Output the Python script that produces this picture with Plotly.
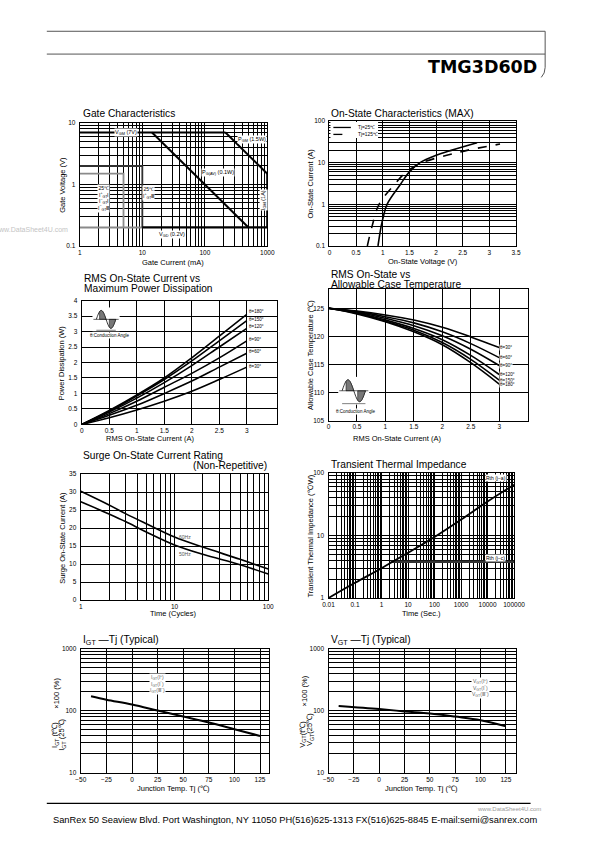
import math
import numpy as np
import plotly.graph_objects as go

W, H = 595, 842
def px(x): return x / W
def py(y): return 1 - y / H
L10 = math.log10

# ---------------- DATA ----------------
# Gate characteristics (mA, V)
gate_vgm_x, gate_vgm_y = [1, 214], [7, 7]
gate_pgm_x, gate_pgm_y = [214, 1000], [7, 1.5]
gate_pgav_x, gate_pgav_y = [14.3, 500], [7, 0.2]
gate_vgd_x, gate_vgd_y = [10, 1000], [0.2, 0.2]
gate_igm_x, gate_igm_y = [1000, 1000], [0.2, 1.5]
gate_box_dark_x, gate_box_dark_y = [1, 10, 10], [2, 2, 0.2]
gate_box_gray_x, gate_box_gray_y = [1, 5, 5], [1.5, 1.5, 0.2]
gate_vgd_gray_x, gate_vgd_gray_y = [1, 10], [0.2, 0.2]

# On-state characteristics (V, A)
on25_v = [0.91, 0.97, 1.01, 1.08, 1.33, 1.50, 1.70, 2.00, 2.30, 2.77]
on25_i = [0.1, 0.3, 0.5, 1, 3, 6, 10, 15, 20, 30]
on125_v = [0.71, 0.80, 0.93, 1.22, 1.44, 1.74, 2.20, 2.60, 3.20]
on125_i = [0.1, 0.3, 1, 3, 6, 10, 15, 20, 28]

# RMS current vs power dissipation
rms_x = [0, 0.5, 1, 1.5, 2, 2.5, 3]
pw_angles = ["180", "150", "120", "90", "60", "30"]
pw_180 = [0, 0.45, 0.95, 1.50, 2.15, 2.85, 3.55]
pw_150 = [0, 0.43, 0.92, 1.45, 2.05, 2.70, 3.35]
pw_120 = [0, 0.40, 0.85, 1.35, 1.90, 2.50, 3.10]
pw_90 = [0, 0.35, 0.75, 1.20, 1.65, 2.15, 2.70]
pw_60 = [0, 0.30, 0.62, 1.00, 1.40, 1.85, 2.30]
pw_30 = [0, 0.22, 0.47, 0.75, 1.07, 1.45, 1.85]

# RMS current vs allowable case temperature
tc_angles = ["30", "60", "90", "120", "150", "180"]
tc_30 = [125, 124.5, 123.8, 122.9, 121.6, 119.9, 118.0]
tc_60 = [125, 124.4, 123.5, 122.4, 120.8, 118.7, 116.2]
tc_90 = [125, 124.3, 123.2, 121.9, 120.1, 117.7, 114.8]
tc_120 = [125, 124.2, 122.9, 121.4, 119.4, 116.6, 113.2]
tc_150 = [125, 124.1, 122.7, 121.1, 118.9, 115.9, 112.2]
tc_180 = [125, 124.0, 122.6, 120.8, 118.5, 115.3, 111.5]

# Surge on-state current
surge_t = [1, 2, 3, 5, 10, 20, 50, 100]
surge_60 = [30.2, 26.4, 24.0, 21.2, 17.5, 14.7, 11.3, 8.6]
surge_50 = [27.3, 23.9, 21.8, 18.9, 15.3, 12.7, 9.8, 7.2]

# Transient thermal impedance
tti_t = [0.01, 0.1, 1, 10, 100, 1000, 10000, 100000]
tti_ja = [1.0, 1.75, 3.0, 5.3, 9.5, 18, 35, 65]
tti_jc_t = [2.2, 100000]
tti_jc = [3.8, 3.8]

# IGT / VGT vs Tj
igt_tj = [-40, -25, 0, 25, 50, 75, 100, 125]
igt_pct = [170, 150, 125, 100, 80, 64, 50, 39]
vgt_tj = [-40, 0, 25, 50, 75, 100, 125]
vgt_pct = [119, 106, 97, 90, 80, 70, 56]

# ---------------- FIGURE ----------------
FONT = "Liberation Sans"
fig = go.Figure()

panels = {
    1: dict(x=(76, 269), y=(120, 244), xt="log", xr=[0, 3], yt="log", yr=[-1, 1]),
    2: dict(x=(333, 525), y=(118, 244), xt="linear", xr=[0, 3.5], yt="log", yr=[-1, 2]),
    3: dict(x=(78, 279), y=(299, 424), xt="linear", xr=[0, 3.55], yt="linear", yr=[0, 4]),
    4: dict(x=(332, 537), y=(287, 420), xt="linear", xr=[0, 3.5], yt="linear", yr=[105, 128.5]),
    5: dict(x=(77, 270), y=(474, 601), xt="log", xr=[0, 2], yt="linear", yr=[0, 35]),
    6: dict(x=(332, 523), y=(473, 599), xt="log", xr=[-2, 5], yt="log", yr=[0, 2]),
    7: dict(x=(77, 271), y=(650, 775), xt="linear", xr=[-50, 134], yt="log", yr=[1, 3]),
    8: dict(x=(332, 525), y=(650, 775), xt="linear", xr=[-50, 135], yt="log", yr=[1, 3]),
}

def log_ticks(lo, hi):
    vals, txt = [], []
    for e in range(lo, hi):
        for m in range(1, 10):
            v = m * 10 ** e
            vals.append(v)
            txt.append((("%g" % v) if m == 1 else ""))
    vals.append(10 ** hi)
    txt.append("%g" % (10 ** hi))
    return vals, txt

def lin_ticks(a, b, step, minus=False):
    vals = list(np.arange(a, b + step / 2, step))
    txt = []
    for v in vals:
        s = ("%g" % v)
        if minus:
            s = s.replace("-", "−")
        txt.append(s)
    return vals, txt

ticks = {
    1: (log_ticks(0, 3), log_ticks(-1, 1)),
    2: (lin_ticks(0, 3.5, 0.5), log_ticks(-1, 2)),
    3: (lin_ticks(0, 3, 0.5), lin_ticks(0, 4, 0.5)),
    4: (lin_ticks(0, 3, 0.5), lin_ticks(105, 125, 5)),
    5: (log_ticks(0, 2), lin_ticks(0, 35, 5)),
    6: (log_ticks(-2, 5), log_ticks(0, 2)),
    7: (lin_ticks(-50, 125, 25, True), log_ticks(1, 3)),
    8: (lin_ticks(-50, 125, 25, True), log_ticks(1, 3)),
}

layout = dict(width=W, height=H, margin=dict(l=0, r=0, t=0, b=0),
              paper_bgcolor="white", plot_bgcolor="white", autosize=False,
              font=dict(family=FONT, color="black"), showlegend=False)

for k, p in panels.items():
    (xv, xtx), (yv, ytx) = ticks[k]
    sfx = "" if k == 1 else str(k)
    common = dict(showline=True, mirror=True, linecolor="black", linewidth=1.3,
                  showgrid=True, gridcolor="black", gridwidth=0.9, zeroline=False,
                  ticks="", tickfont=dict(size=6.5, family=FONT, color="black"),
                  fixedrange=True)
    layout["xaxis" + sfx] = dict(common, domain=[px(p["x"][0]), px(p["x"][1])],
                                 type=p["xt"], range=p["xr"], anchor="y" + sfx,
                                 tickmode="array", tickvals=xv, ticktext=xtx, ticklabelstandoff=0)
    layout["yaxis" + sfx] = dict(common, domain=[py(p["y"][1]), py(p["y"][0])],
                                 type=p["yt"], range=p["yr"], anchor="x" + sfx,
                                 tickmode="array", tickvals=yv, ticktext=ytx, ticklabelstandoff=2)

def add(k, x, y, color="black", width=1.8, dash="solid", shape="linear"):
    sfx = "" if k == 1 else str(k)
    fig.add_trace(go.Scatter(x=x, y=y, mode="lines", xaxis="x" + sfx, yaxis="y" + sfx,
                             line=dict(color=color, width=width, dash=dash, shape=shape),
                             showlegend=False, hoverinfo="skip"))

# Gate
add(1, gate_vgd_gray_x, gate_vgd_gray_y, color="#8a8a8a", width=2)
add(1, gate_box_gray_x, gate_box_gray_y, color="#8a8a8a", width=1.8)
add(1, gate_box_dark_x, gate_box_dark_y, color="#303030", width=1.8)
add(1, gate_vgm_x, gate_vgm_y, width=2)
add(1, gate_pgm_x, gate_pgm_y, width=2)
add(1, gate_pgav_x, gate_pgav_y, width=2)
add(1, gate_vgd_x, gate_vgd_y, width=2.2)
add(1, gate_igm_x, gate_igm_y, width=2.2)

# On-state
add(2, on25_v, on25_i, width=1.6, shape="spline")
add(2, on125_v, on125_i, width=1.6, dash="dash", shape="spline")

# Power
for arr in [pw_180, pw_150, pw_120, pw_90, pw_60, pw_30]:
    add(3, rms_x, arr, width=1.6, shape="spline")
# Case temp
for arr in [tc_30, tc_60, tc_90, tc_120, tc_150, tc_180]:
    add(4, rms_x, arr, width=1.6, shape="spline")
# Surge
add(5, surge_t, surge_60, width=1.6, shape="spline")
add(5, surge_t, surge_50, width=1.6, shape="spline")
# Transient
add(6, tti_jc_t, tti_jc, color="#333333", width=2.6)
add(6, tti_t, tti_ja, width=1.8, shape="spline")
# IGT / VGT
add(7, igt_tj, igt_pct, width=2, shape="spline")
add(8, vgt_tj, vgt_pct, width=2, shape="spline")

ann = []
def txt(x, y, s, size=10, xa="left", ya="middle", angle=0, color="black", bg=None, family=FONT):
    d = dict(x=px(x), y=py(y), xref="paper", yref="paper", text=s, showarrow=False,
             xanchor=xa, yanchor=ya, textangle=angle,
             font=dict(size=size, family=family, color=color))
    if bg:
        d["bgcolor"] = bg
        d["borderpad"] = 0
    ann.append(d)

def dtxt(k, x, y, s, size=5.5, xa="center", ya="middle", angle=0, color="black", bg="white"):
    sfx = "" if k == 1 else str(k)
    d = dict(x=x, y=y, xref="x" + sfx, yref="y" + sfx, text=s, showarrow=False,
             xanchor=xa, yanchor=ya, textangle=angle, borderpad=0,
             font=dict(size=size, family=FONT, color=color))
    if bg:
        d["bgcolor"] = bg
    ann.append(d)

# Titles
TS = 10.2
txt(77, 110.5, "Gate Characteristics", TS)
txt(333, 110, "On-State Characteristics (MAX)", TS)
txt(78, 277, "RMS On-State Current vs", TS)
txt(78, 287, "Maximum Power Dissipation", TS)
txt(333, 273, "RMS On-State vs", TS)
txt(333, 283, "Allowable Case Temperature", TS)
txt(77, 455, "Surge On-State Current Rating", TS)
txt(271, 465, "(Non-Repetitive)", TS, xa="right")
txt(333, 464, "Transient Thermal Impedance", TS)
txt(77, 642, "I<sub>GT</sub> —Tj (Typical)", TS)
txt(333, 642, "V<sub>GT</sub> —Tj (Typical)", TS)

# Axis titles
AS = 7.5
txt(172, 261, "Gate Current (mA)", AS, xa="center")
txt(58, 182, "Gate Voltage (V)", AS, xa="center", angle=-90)
txt(429, 260, "On-State Voltage (V)", AS, xa="center")
txt(313, 181, "On-State Current (A)", AS, xa="center", angle=-90)
txt(148, 438, "RMS On-State Current (A)", AS, xa="center")
txt(58, 362, "Power Dissipation (W)", AS, xa="center", angle=-90)
txt(403, 438, "RMS On-State Current (A)", AS, xa="center")
txt(313, 354, "Allowable Case Temperature (℃)", AS, xa="center", angle=-90)
txt(172, 615, "Time (Cycles)", AS, xa="center")
txt(58, 538, "Surge On-State Current (A)", AS, xa="center", angle=-90)
txt(428, 615, "Time (Sec.)", AS, xa="center")
txt(313, 537, "Transient Thermal Impedance (℃/W)", AS, xa="center", angle=-90)
txt(172, 791, "Junction Temp. Tj (℃)", AS, xa="center")
txt(428, 791, "Junction Temp. Tj (℃)", AS, xa="center")
# Fraction-style y titles
txt(50.5, 737, "I<sub>GT</sub> (t℃)", AS, xa="center", angle=-90)
txt(57.5, 737, "I<sub>GT</sub> (25℃)", AS, xa="center", angle=-90)
txt(52, 695, "×100 (%)", AS, xa="center", angle=-90)
txt(305.5, 736, "V<sub>GT</sub>(t℃)", AS, xa="center", angle=-90)
txt(313, 732, "V<sub>GT</sub>(25℃)", AS, xa="center", angle=-90)
txt(307, 693, "×100 (%)", AS, xa="center", angle=-90)

# Gate labels
dtxt(1, L10(5.4), L10(7), "V<sub>GM</sub> (7V)")
dtxt(1, L10(560), L10(5.3), "P<sub>GM</sub> (1.5W)")
dtxt(1, L10(160), L10(1.56), "P<sub>G(AV)</sub> (0.1W)")
dtxt(1, L10(30), L10(0.155), "V<sub>GD</sub> (0.2V)")
dtxt(1, L10(870), L10(0.55), "I<sub>GM</sub> (1A)", angle=-90)
dtxt(1, L10(2.4), L10(0.6), "25℃<br>I<sup>+</sup><sub>GT</sub>Ⅰ<br>I<sup>−</sup><sub>GT</sub>Ⅰ<br>I<sup>−</sup><sub>GT</sub>Ⅲ", size=5)
dtxt(1, L10(12.5), L10(0.72), "25℃<br>I<sup>+</sup><sub>GT</sub>Ⅲ", size=5)

# Power curve labels
for a, arr in zip(pw_angles, [pw_180, pw_150, pw_120, pw_90, pw_60, pw_30]):
    off = {"180": 0.1, "150": 0.05, "120": 0.05, "90": 0.05, "60": 0.05, "30": 0.03}[a]
    dtxt(3, 3.02, arr[-1] + off, "θ=%s°" % a, size=4.5, xa="left", bg=None)
# Case temp labels
for a, arr in zip(tc_angles, [tc_30, tc_60, tc_90, tc_120, tc_150, tc_180]):
    dtxt(4, 3.0, arr[-1], "θ=%s°" % a, size=4.5, xa="left", bg="white")

# Surge labels
dtxt(5, L10(13), 17.5, "60Hz", size=5, color="#555", bg=None)
dtxt(5, L10(13), 12.7, "50Hz", size=5, color="#555", bg=None)

# Transient labels
dtxt(6, L10(20000), L10(83), "Rth (j−a)", size=5, bg="white")
dtxt(6, L10(20000), L10(4.3), "Rth (j−c)", size=5, bg="white")

# IGT/VGT labels
dtxt(7, 25, L10(270), "I<sub>GT</sub>(Ⅰ<sup>+</sup>)<br>I<sub>GT</sub>(Ⅰ<sup>−</sup>)<br>I<sub>GT</sub>(Ⅲ<sup>−</sup>)", size=5, color="#666")
dtxt(8, 100, L10(235), "V<sub>GT</sub>(Ⅰ<sup>+</sup>)<br>V<sub>GT</sub>(Ⅰ<sup>−</sup>)<br>V<sub>GT</sub>(Ⅲ<sup>−</sup>)", size=5, color="#666")

# Inset notes
txt(107, 334, "θ:Conduction Angle", 4.5, xa="center", bg="white")
txt(360, 411, "θ:Conduction Angle", 4.5, xa="center", bg="white")

# On-state legend (manual)
txt(360, 124.5, "Tj=25℃", 4.8)
txt(360, 131.5, "Tj=125℃", 4.8)

# Header / footer
txt(549, 64, "<b>TMG3D60D</b>", 17.5, xa="right", family="DejaVu Sans")
txt(66, 227, "www.DataSheet4U.com", 7, xa="right", color="#c4c4c4")
txt(553, 812, "www.DataSheet4U.com", 6, xa="right", color="#9a9a9a")
txt(298, 823, "SanRex 50 Seaview Blvd. Port Washington, NY 11050 PH(516)625-1313 FX(516)625-8845 E-mail:semi@sanrex.com", 9.3, xa="center")

layout["annotations"] = ann

# Shapes (page decorations, legend samples and inset icons)
shapes = []
def pline(x0, y0, x1, y1, w=1, c="black", dash="solid"):
    shapes.append(dict(type="line", xref="paper", yref="paper", x0=px(x0), y0=py(y0),
                       x1=px(x1), y1=py(y1), line=dict(color=c, width=w, dash=dash)))
pline(42, 27.5, 555, 27.5, 1, "#555")
pline(42, 50.5, 555, 50.5, 1, "#555")
shapes.append(dict(type="path", xref="paper", yref="paper",
                   path="M %f,%f L %f,%f Q %f,%f %f,%f" % (px(555), py(27.5), px(555), py(64),
                                                           px(555), py(70), px(551), py(74)),
                   line=dict(color="#555", width=1)))
pline(42, 806, 540, 806, 1.2, "black")

# legend box for on-state chart
shapes.append(dict(type="rect", xref="paper", yref="paper", x0=px(334), x1=px(383),
                   y0=py(135), y1=py(119), fillcolor="white", line=dict(width=0)))
pline(337, 124.5, 355, 124.5, 1.3)
pline(337, 131.5, 355, 131.5, 1.3, dash="dash")

def icon(cx, cy, wd, ht):
    shapes.append(dict(type="rect", xref="paper", yref="paper", x0=px(cx - wd / 2 - 4), x1=px(cx + wd / 2 + 4),
                       y0=py(cy + ht / 2 + 3), y1=py(cy - ht / 2 - 3), fillcolor="white", line=dict(width=0)))
    t = np.linspace(0, 2 * np.pi, 40)
    xs = cx - wd / 2 + t / (2 * np.pi) * wd
    ys = cy - np.sin(t) * ht / 2
    path = "M " + " L ".join("%f,%f" % (px(a), py(b)) for a, b in zip(xs, ys))
    shapes.append(dict(type="path", xref="paper", yref="paper", path=path, line=dict(color="black", width=0.8)))
    for a0, a1 in [(np.pi / 3, np.pi), (4 * np.pi / 3, 2 * np.pi)]:
        tt = np.linspace(a0, a1, 15)
        xs1 = cx - wd / 2 + tt / (2 * np.pi) * wd
        ys1 = cy - np.sin(tt) * ht / 2
        p1 = "M %f,%f L " % (px(xs1[0]), py(cy)) + " L ".join("%f,%f" % (px(a), py(b)) for a, b in zip(xs1, ys1)) + " Z"
        shapes.append(dict(type="path", xref="paper", yref="paper", path=p1, fillcolor="#777",
                           line=dict(color="black", width=0.5)))
    pline(cx - wd / 2 - 3, cy, cx + wd / 2 + 3, cy, 0.6)
    pline(cx - wd / 2, cy + ht / 2 + 2, cx + wd / 2, cy + ht / 2 + 2, 0.5)

icon(103, 318, 20, 18)
icon(358, 390, 24, 22)
layout["shapes"] = shapes

fig.update_layout(**layout)
fig.write_html("out.html", config={"responsive": False, "displayModeBar": False},
               post_script="document.body.style.margin='0px';document.body.style.padding='0px';"
                           "document.documentElement.style.overflow='hidden';")
